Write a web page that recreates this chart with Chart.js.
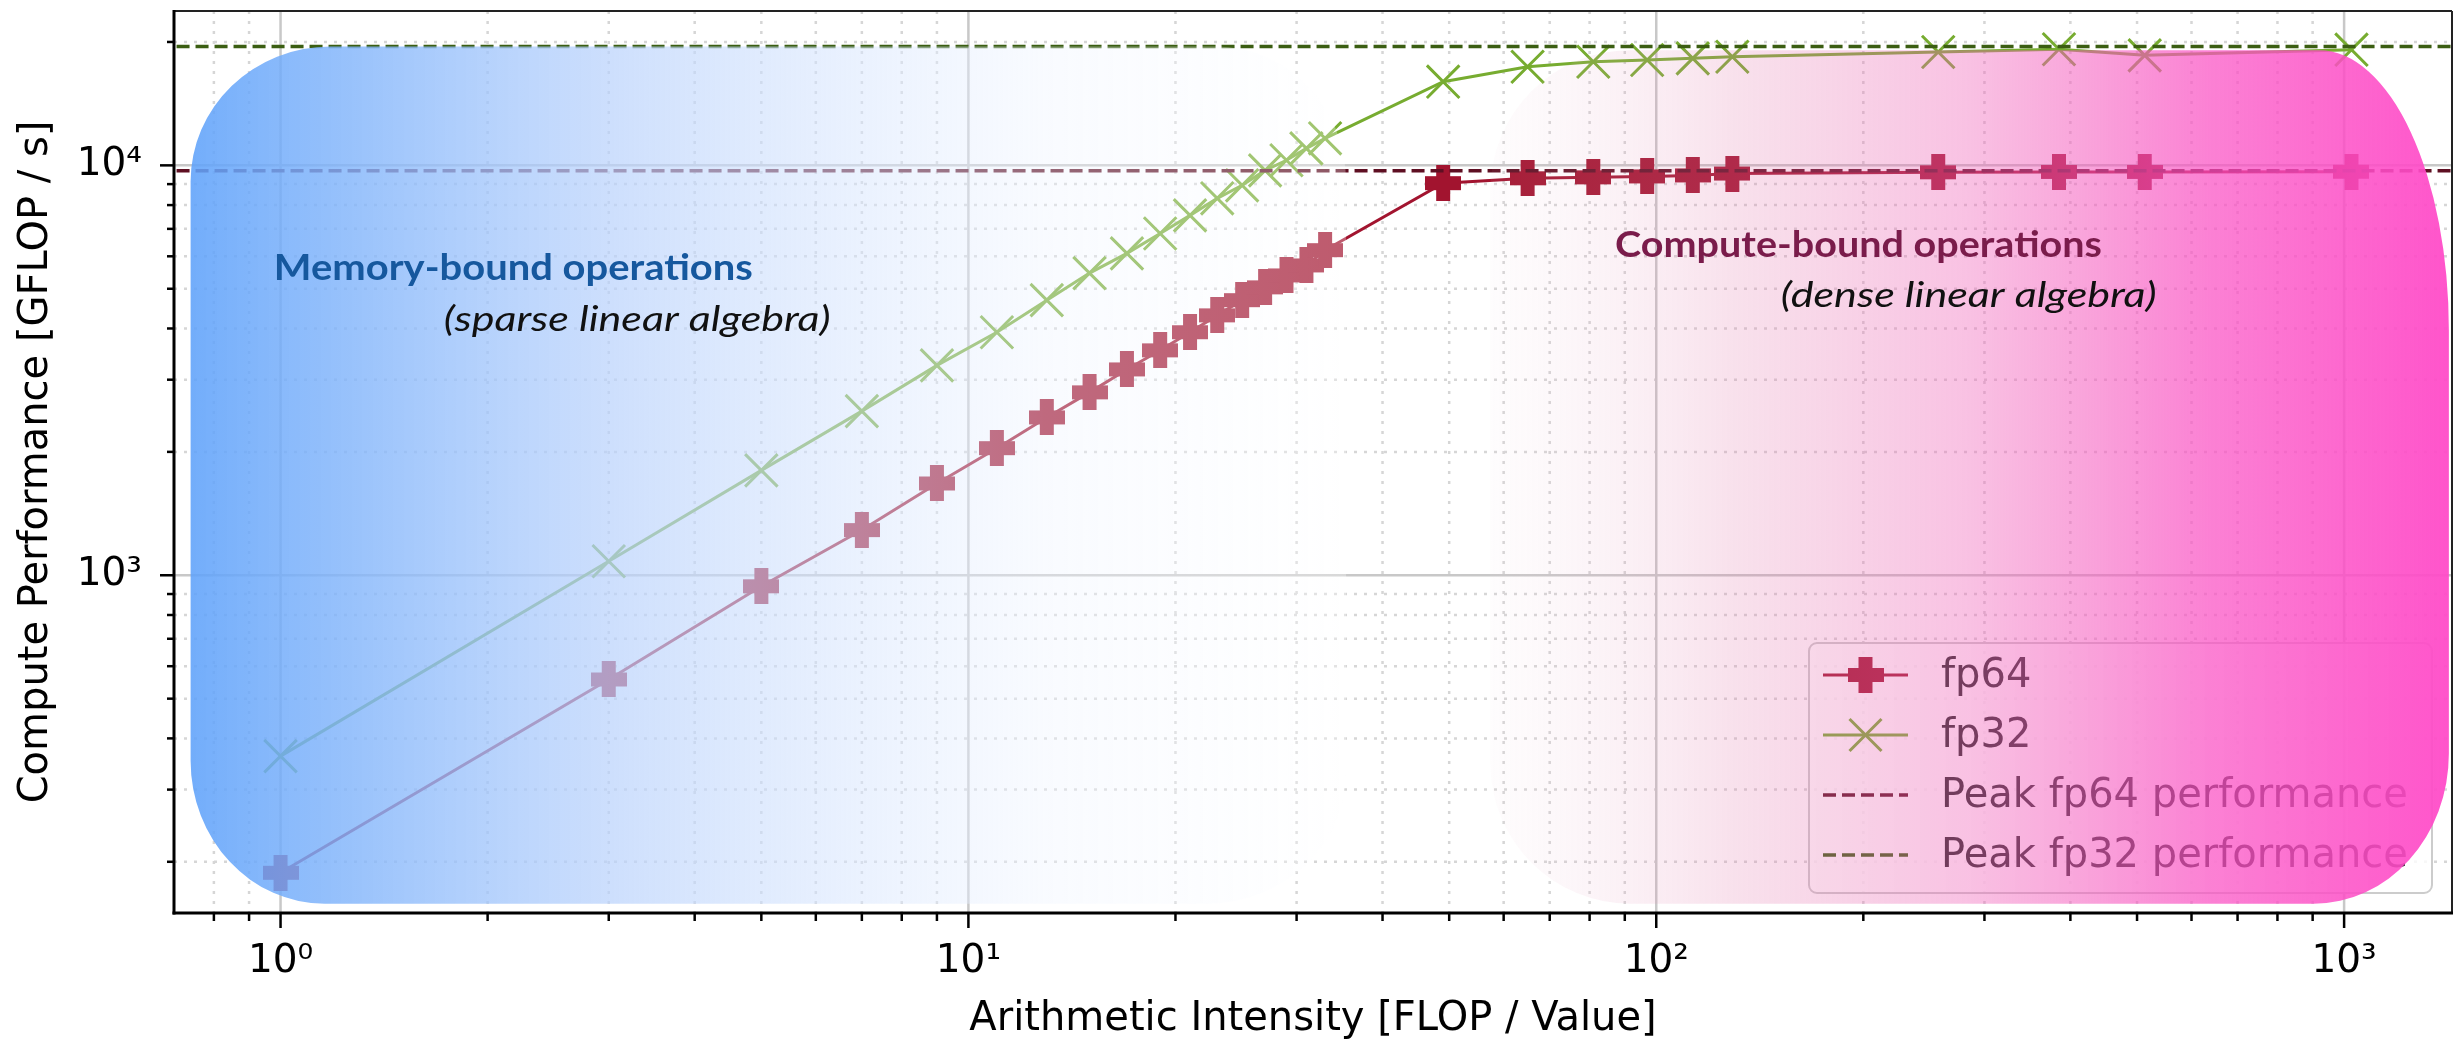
<!DOCTYPE html>
<html>
<head>
<meta charset="utf-8">
<title>Roofline: fp64 / fp32</title>
<script src="https://cdn.jsdelivr.net/npm/chart.js@4.4.1/dist/chart.umd.min.js"></script>
<style>
  html, body { margin: 0; padding: 0; background: #fff; }
  #wrap { width: 2458px; height: 1045px; }
</style>
</head>
<body>
<div id="wrap"><canvas id="chart" width="2458" height="1045"></canvas></div>
<script>
/* Roofline chart: compute performance vs arithmetic intensity */

// Arithmetic intensity of each measured kernel [FLOP / value]
const intensity = [1, 3, 5, 7, 9, 11, 13, 15, 17, 19, 21, 23, 25, 27, 29, 31, 33,
  49, 65, 81, 97, 113, 129, 257, 385, 513, 1025];

// Measured performance [GFLOP / s]
const fp64Perf = [188, 557, 940, 1289, 1675, 2042, 2427, 2794, 3178, 3538, 3917, 4306, 4690, 5040, 5390, 5700, 6210,
  9050, 9300, 9350, 9400, 9450, 9550, 9620, 9640, 9640, 9650];
const fp32Perf = [362, 1082, 1803, 2514, 3251, 3917, 4690, 5460, 6100, 6820, 7550, 8310, 8940, 9720, 10290, 11000, 11640,
  16000, 17400, 17900, 18070, 18240, 18410, 18900, 19200, 18550, 19150];

const peakFp64 = 9700;
const peakFp32 = 19500;

const xLimits = [0.706, 1435];
const yLimits = [150, 23800];

const xMajorTicks = [1, 10, 100, 1000];
const xTickLabels = ['10⁰', '10¹', '10²', '10³'];
const xMinorTicks = [0.8, 0.9, 2, 3, 4, 5, 6, 7, 8, 9, 20, 30, 40, 50, 60, 70, 80, 90,
  200, 300, 400, 500, 600, 700, 800, 900];
const yMajorTicks = [1000, 10000];
const yTickLabels = ['10³', '10⁴'];
const yMinorTicks = [200, 300, 400, 500, 600, 700, 800, 900,
  2000, 3000, 4000, 5000, 6000, 7000, 8000, 9000, 20000];

const legendLabels = ['fp64', 'fp32', 'Peak fp64 performance', 'Peak fp32 performance'];

// shaded regions, in data coordinates
const memoryRegion = { x: [0.74, 35.4], y: [158, 19500] };
const computeRegion = { x: [57.4, 1420], y: [158, 19100] };

// region captions: [x, y] is the centre of the baseline, in data coordinates
const notes = [
  { text: 'Memory-bound operations', at: [2.18, 5245], width: 479, font: 'bold 37px Lato', color: '#16589e' },
  { text: '(sparse linear algebra)', at: [3.30, 3936], width: 387, font: 'italic 35px Lato', color: '#111111' },
  { text: 'Compute-bound operations', at: [196.8, 5970], width: 487, font: 'bold 37px Lato', color: '#7a1c4b' },
  { text: '(dense linear algebra)', at: [284.6, 4510], width: 376, font: 'italic 35px Lato', color: '#111111' },
];

const colors = {
  fp64: '#a2142f',
  fp32: '#77ac30',
  peak64: '#5e0f22',
  peak32: '#3b5e12',
  gridMajor: '#c8c8c8',
  gridMinor: '#d6d6d6',
};

const DASH = [13, 6];

function plusMarker(size, arm, color) {
  const c = document.createElement('canvas');
  c.width = size;
  c.height = size;
  const g = c.getContext('2d');
  g.fillStyle = color;
  const o = (size - arm) / 2;
  g.fillRect(o, 0, arm, size);
  g.fillRect(0, o, size, arm);
  return c;
}

const plusImg = plusMarker(36, 14, colors.fp64);

function buildTicks(minor, major) {
  return minor.concat(major)
    .sort((a, b) => a - b)
    .map(v => ({ value: v, major: major.includes(v) }));
}

function tickLabel(value, major, labels) {
  const i = major.indexOf(value);
  return i >= 0 ? labels[i] : '';
}

// fixed axis box sizes, with no extra padding for overflowing labels
function fixBox(s, size) {
  if (s.isHorizontal()) s.height = size; else s.width = size;
  s.paddingTop = 0;
  s.paddingBottom = 0;
  s.paddingLeft = 0;
  s.paddingRight = 0;
}

function line(ctx, x0, y0, x1, y1) {
  ctx.beginPath();
  ctx.moveTo(x0, y0);
  ctx.lineTo(x1, y1);
  ctx.stroke();
}

function drawGrid(chart) {
  const { ctx, chartArea: a, scales: { x, y } } = chart;
  ctx.save();
  ctx.lineWidth = 2.5;
  ctx.strokeStyle = colors.gridMinor;
  ctx.setLineDash([3, 7]);
  xMinorTicks.forEach(v => { const px = x.getPixelForValue(v); line(ctx, px, a.top, px, a.bottom); });
  yMinorTicks.forEach(v => { const py = y.getPixelForValue(v); line(ctx, a.left, py, a.right, py); });
  ctx.setLineDash([]);
  ctx.strokeStyle = colors.gridMajor;
  xMajorTicks.forEach(v => { const px = x.getPixelForValue(v); line(ctx, px, a.top, px, a.bottom); });
  yMajorTicks.forEach(v => { const py = y.getPixelForValue(v); line(ctx, a.left, py, a.right, py); });
  ctx.restore();
}

function drawFrame(chart) {
  const { ctx, chartArea: a, scales: { x, y } } = chart;
  ctx.save();
  ctx.strokeStyle = '#000';
  ctx.lineWidth = 2.5;
  xMinorTicks.forEach(v => { const px = x.getPixelForValue(v); line(ctx, px, a.bottom, px, a.bottom + 8); });
  xMajorTicks.forEach(v => { const px = x.getPixelForValue(v); line(ctx, px, a.bottom, px, a.bottom + 15); });
  yMinorTicks.forEach(v => { const py = y.getPixelForValue(v); line(ctx, a.left, py, a.left - 7, py); });
  yMajorTicks.forEach(v => { const py = y.getPixelForValue(v); line(ctx, a.left, py, a.left - 14, py); });
  ctx.lineWidth = 2;
  ctx.strokeStyle = '#222';
  line(ctx, a.left, a.top, a.right, a.top);
  line(ctx, a.right, a.top, a.right, a.bottom);
  ctx.lineWidth = 3;
  ctx.strokeStyle = '#000';
  line(ctx, a.left, a.top - 1, a.left, a.bottom + 1.5);
  line(ctx, a.left - 1.5, a.bottom, a.right + 1, a.bottom);
  ctx.restore();
}

// rounded box, radii given per corner as [rx, ry]: tl, tr, br, bl
function roundedPath(ctx, x0, y0, x1, y1, r) {
  const [tl, tr, br, bl] = r;
  ctx.beginPath();
  ctx.moveTo(x0, y0 + tl[1]);
  ctx.ellipse(x0 + tl[0], y0 + tl[1], tl[0], tl[1], 0, Math.PI, 1.5 * Math.PI);
  ctx.lineTo(x1 - tr[0], y0);
  ctx.ellipse(x1 - tr[0], y0 + tr[1], tr[0], tr[1], 0, 1.5 * Math.PI, 2 * Math.PI);
  ctx.lineTo(x1, y1 - br[1]);
  ctx.ellipse(x1 - br[0], y1 - br[1], br[0], br[1], 0, 0, 0.5 * Math.PI);
  ctx.lineTo(x0 + bl[0], y1);
  ctx.ellipse(x0 + bl[0], y1 - bl[1], bl[0], bl[1], 0, 0.5 * Math.PI, Math.PI);
  ctx.closePath();
}

function drawLegend(chart) {
  const { ctx, chartArea: a } = chart;
  const w = 623, h = 250;
  const left = a.right - 20 - w;
  const top = a.bottom - 20 - h;
  ctx.save();
  roundedPath(ctx, left, top, left + w, top + h, [[8, 8], [8, 8], [8, 8], [8, 8]]);
  ctx.fillStyle = 'rgba(255,255,255,0.8)';
  ctx.fill();
  ctx.strokeStyle = '#cccccc';
  ctx.lineWidth = 2;
  ctx.stroke();

  const styles = [
    { color: colors.fp64, dash: [], width: 3, marker: 'plus' },
    { color: colors.fp32, dash: [], width: 3, marker: 'x' },
    { color: colors.peak64, dash: DASH, width: 3.5 },
    { color: colors.peak32, dash: DASH, width: 3.5 },
  ];
  ctx.font = '40px "DejaVu Sans"';
  ctx.textBaseline = 'middle';
  legendLabels.forEach((label, i) => {
    const cy = top + 32 + i * 60;
    const x0 = left + 14, x1 = left + 99, cx = (x0 + x1) / 2;
    const s = styles[i];
    ctx.strokeStyle = s.color;
    ctx.lineWidth = s.width;
    ctx.setLineDash(s.dash);
    line(ctx, x0, cy, x1, cy);
    ctx.setLineDash([]);
    if (s.marker === 'plus') {
      ctx.drawImage(plusImg, cx - plusImg.width / 2, cy - plusImg.height / 2);
    } else if (s.marker === 'x') {
      const d = 16;
      line(ctx, cx - d, cy - d, cx + d, cy + d);
      line(ctx, cx - d, cy + d, cx + d, cy - d);
    }
    ctx.fillStyle = '#222';
    ctx.fillText(label, left + 132, cy + 2);
  });
  ctx.restore();
}

function drawRegion(chart, region, radii, stops) {
  const { ctx, scales: { x, y } } = chart;
  const x0 = x.getPixelForValue(region.x[0]);
  const x1 = x.getPixelForValue(region.x[1]);
  const y0 = y.getPixelForValue(region.y[1]);
  const y1 = y.getPixelForValue(region.y[0]);
  const g = ctx.createLinearGradient(x0, 0, x1, 0);
  stops.forEach(([p, c]) => g.addColorStop(p, c));
  ctx.save();
  roundedPath(ctx, x0, y0, x1, y1, radii);
  ctx.fillStyle = g;
  ctx.fill();
  ctx.restore();
}

function drawNotes(chart) {
  const { ctx, scales: { x, y } } = chart;
  notes.forEach(n => {
    ctx.save();
    ctx.font = n.font;
    const w = ctx.measureText(n.text).width;
    const cx = x.getPixelForValue(n.at[0]);
    const by = y.getPixelForValue(n.at[1]);
    ctx.translate(cx - n.width / 2, by);
    ctx.scale(n.width / w, 1);
    ctx.fillStyle = n.color;
    ctx.textBaseline = 'alphabetic';
    ctx.fillText(n.text, 0, 0);
    ctx.restore();
  });
}

const decor = {
  id: 'decor',
  beforeDatasetsDraw(chart) {
    drawGrid(chart);
  },
  afterDatasetsDraw(chart) {
    drawFrame(chart);
    drawLegend(chart);
    drawRegion(chart, memoryRegion, [[140, 135], [130, 135], [140, 130], [134, 143]], [
      [0, 'rgba(95,162,250,0.88)'],
      [0.36, 'rgba(185,210,252,0.72)'],
      [0.74, 'rgba(238,244,255,0.38)'],
      [1, 'rgba(255,255,255,0.3)'],
    ]);
    drawRegion(chart, computeRegion, [[140, 140], [130, 280], [135, 150], [140, 140]], [
      [0, 'rgba(235,200,215,0.05)'],
      [0.25, 'rgba(225,120,170,0.22)'],
      [0.5, 'rgba(240,100,185,0.4)'],
      [0.75, 'rgba(250,80,195,0.72)'],
      [1, 'rgba(255,75,200,0.95)'],
    ]);
    drawNotes(chart);
  },
};

const points = ys => intensity.map((x, i) => ({ x, y: ys[i] }));
const flat = v => xLimits.map(x => ({ x, y: v }));

function init() {
  const ctx = document.getElementById('chart').getContext('2d');
  new Chart(ctx, {
    type: 'line',
    data: {
      datasets: [
        {
          label: 'Peak fp32 performance', data: flat(peakFp32), order: 0,
          borderColor: colors.peak32, borderWidth: 3.5, borderDash: DASH, pointRadius: 0,
        },
        {
          label: 'Peak fp64 performance', data: flat(peakFp64), order: 1,
          borderColor: colors.peak64, borderWidth: 3.5, borderDash: DASH, pointRadius: 0,
        },
        {
          label: 'fp32', data: points(fp32Perf), order: 2,
          borderColor: colors.fp32, borderWidth: 3,
          pointStyle: 'crossRot', pointRadius: 23, pointBorderWidth: 3,
          pointBorderColor: colors.fp32, pointBackgroundColor: colors.fp32,
        },
        {
          label: 'fp64', data: points(fp64Perf), order: 3,
          borderColor: colors.fp64, borderWidth: 3,
          pointStyle: plusImg, pointRadius: 18,
        },
      ],
    },
    options: {
      responsive: false,
      animation: false,
      events: [],
      devicePixelRatio: 1,
      layout: { autoPadding: false, padding: { left: 0, top: 11, right: 6, bottom: 0 } },
      plugins: { legend: { display: false }, tooltip: { enabled: false } },
      scales: {
        x: {
          type: 'logarithmic',
          min: xLimits[0],
          max: xLimits[1],
          afterBuildTicks: s => { s.ticks = buildTicks(xMinorTicks, xMajorTicks); },
          afterFit: s => fixBox(s, 132),
          grid: { display: false, drawTicks: false },
          border: { display: false },
          ticks: {
            autoSkip: false, maxRotation: 0, minRotation: 0, padding: 25, color: '#000',
            font: { family: 'DejaVu Sans', size: 39 },
            callback: v => tickLabel(v, xMajorTicks, xTickLabels),
          },
          title: {
            display: true, text: 'Arithmetic Intensity [FLOP / Value]', color: '#000',
            font: { family: 'DejaVu Sans', size: 40 }, padding: { top: 0, bottom: 1 },
          },
        },
        y: {
          type: 'logarithmic',
          min: yLimits[0],
          max: yLimits[1],
          afterBuildTicks: s => { s.ticks = buildTicks(yMinorTicks, yMajorTicks); },
          afterFit: s => fixBox(s, 174),
          grid: { display: false, drawTicks: false },
          border: { display: false },
          ticks: {
            autoSkip: false, padding: 32, color: '#000',
            font: { family: 'DejaVu Sans', size: 39 },
            callback: v => tickLabel(v, yMajorTicks, yTickLabels),
          },
          title: {
            display: true, text: 'Compute Performance [GFLOP / s]', color: '#000',
            font: { family: 'DejaVu Sans', size: 40 }, padding: { top: 13, bottom: 0 },
          },
        },
      },
    },
    plugins: [decor],
  });
}

Promise.all([
  document.fonts.load('39px "DejaVu Sans"'),
  document.fonts.load('bold 37px Lato'),
  document.fonts.load('italic 35px Lato'),
]).then(init, init);
</script>
</body>
</html>
